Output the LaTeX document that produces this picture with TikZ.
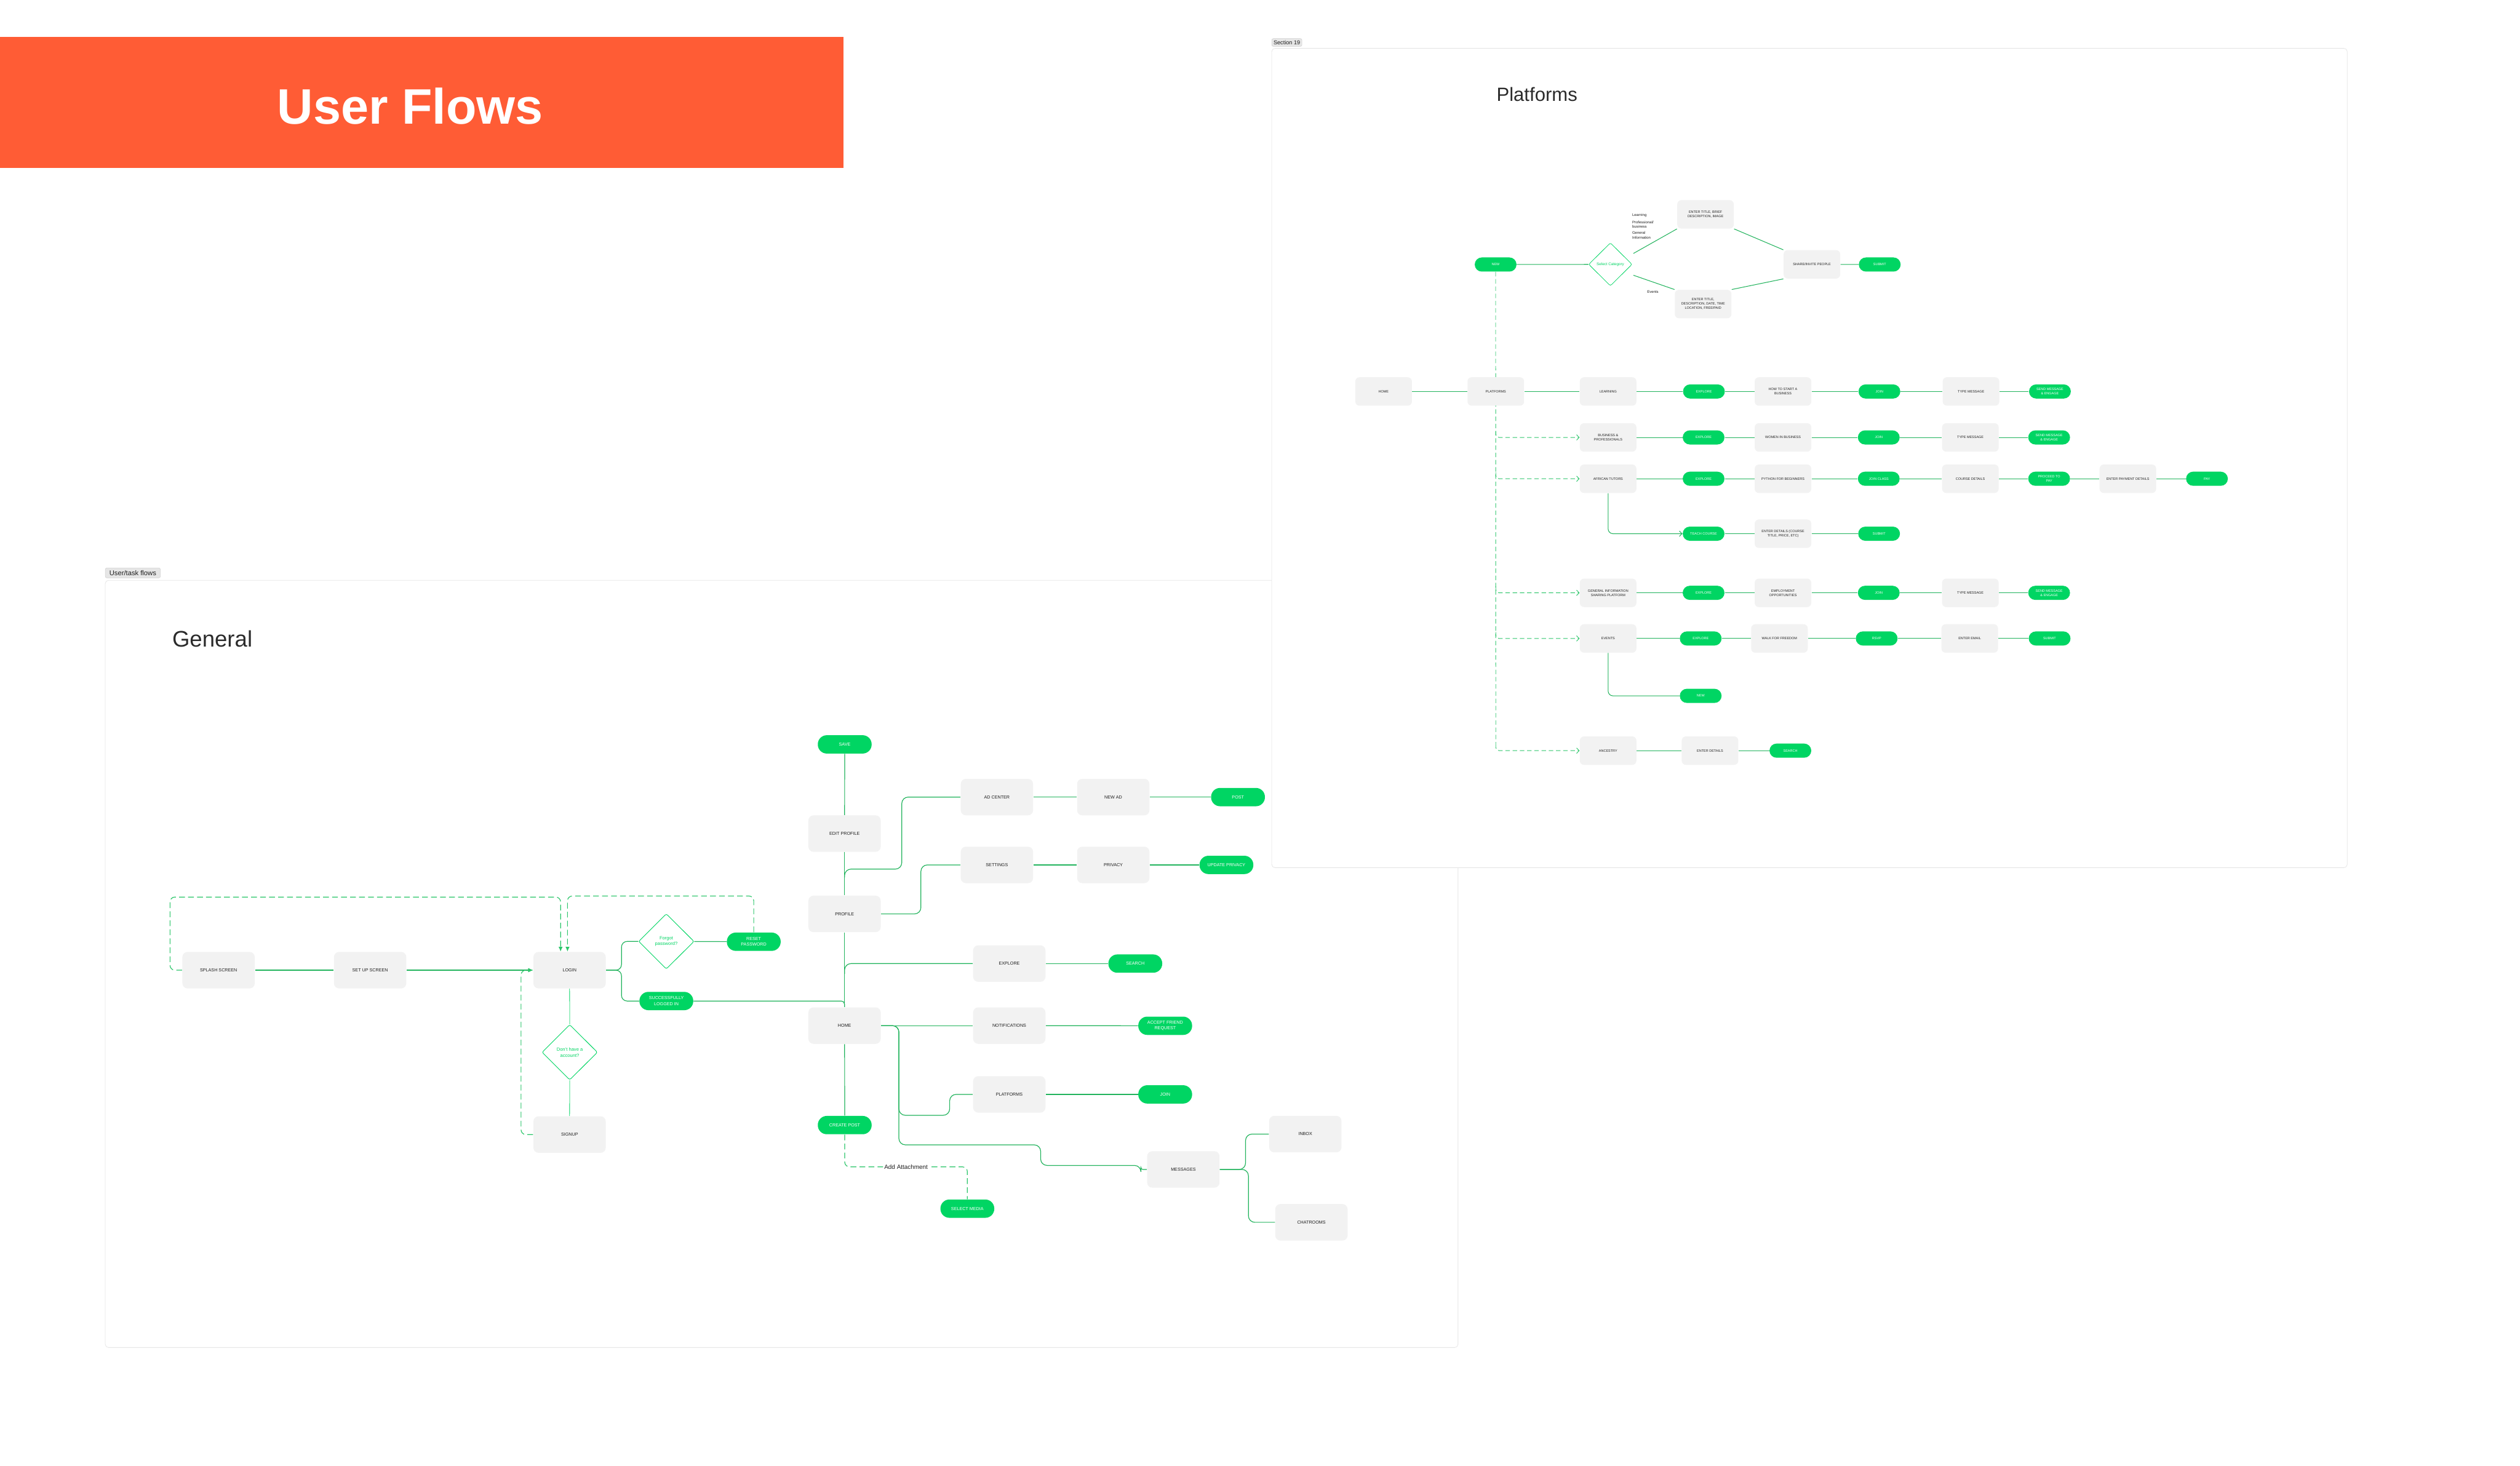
\documentclass[tikz,border=0pt]{standalone}
\usepackage{fontspec}
\setmainfont{Liberation Sans}
\usetikzlibrary{arrows.meta,shapes.geometric,calc}
\pgfdeclarelayer{frames}
\pgfdeclarelayer{links}
\pgfsetlayers{frames,links,main}
\definecolor{uforange}{HTML}{FF5C35}
\definecolor{boxgray}{HTML}{F2F2F2}
\definecolor{txt}{HTML}{1F1F1F}
\definecolor{head}{HTML}{2B2B2B}
\definecolor{pgreen}{HTML}{00D563}
\definecolor{lgreen}{HTML}{21B35C}
\definecolor{dgreen}{HTML}{2CC66A}
\definecolor{framegray}{HTML}{E6E6E6}
\definecolor{taggray}{HTML}{E6E6E6}
\definecolor{tagline}{HTML}{CFCFCF}
\tikzset{
 gbox/.style={rectangle, rounded corners=3.2pt, fill=boxgray, minimum width=45pt, minimum height=22.7pt, inner sep=0pt, align=center, text=txt, font=\fontsize{2.75pt}{3.6pt}\selectfont},
 gpill/.style={rectangle, rounded corners=5.6pt, fill=pgreen, minimum width=33.5pt, minimum height=11.4pt, inner sep=0pt, align=center, text=white, font=\fontsize{2.75pt}{3.6pt}\selectfont},
 gdmd/.style={diamond, draw=pgreen, line width=0.35pt, fill=white, minimum width=34.5pt, minimum height=34.4pt, inner sep=0pt, align=center, text=pgreen, font=\fontsize{2.9pt}{3.7pt}\selectfont, rounded corners=1pt},
 pbox/.style={gbox, rounded corners=2.6pt, minimum width=35.2pt, minimum height=17.7pt, font=\fontsize{2.1pt}{2.65pt}\selectfont},
 ppill/.style={gpill, rounded corners=4.4pt, minimum width=26pt, minimum height=8.8pt, font=\fontsize{2.1pt}{2.65pt}\selectfont},
 pdmd/.style={gdmd, line width=0.3pt, minimum width=27pt, minimum height=26.8pt, font=\fontsize{2.4pt}{3pt}\selectfont},
 gline/.style={draw=lgreen, line width=0.45pt},
 glite/.style={draw=pgreen, line width=0.3pt},
 gdash/.style={draw=dgreen, line width=0.45pt, dash pattern=on 3.6pt off 2pt},
 pline/.style={draw=lgreen, line width=0.4pt},
 pdash/.style={draw=dgreen, line width=0.35pt, dash pattern=on 2.8pt off 1.7pt},
 gtip/.style={-{Latex[length=3pt,width=2.6pt]}},
 ptip/.style={-{Straight Barb[length=1.6pt,width=3.4pt]}},
 note/.style={anchor=west, align=left, text=txt, font=\fontsize{2.3pt}{2.75pt}\selectfont, inner sep=0pt},
 tag/.style={rectangle, rounded corners=1pt, fill=taggray, draw=tagline, line width=0.2pt, inner sep=0pt, text=txt},
 frame/.style={draw=framegray, line width=0.3pt, rounded corners=2pt, fill=white}
}
\begin{document}
\begin{tikzpicture}[x=1pt,y=-1pt]
\useasboundingbox (0,0) rectangle (1568,912);

% ---------- banner ----------
\fill[uforange] (0,23) rectangle (525,104.5);
\node[anchor=base, text=white, inner sep=0pt, font=\bfseries\fontsize{31pt}{36pt}\selectfont] (title) at (255.3,77.1) {User Flows};

% ---------- frames ----------
\begin{pgfonlayer}{frames}
\path[frame] (65.5,361.1) rectangle (907.2,838.5);
\path[frame] (791.3,30.1) rectangle (1460.5,539.9);
\end{pgfonlayer}
\node[tag, minimum width=34.3pt, minimum height=6.2pt, font=\fontsize{4.3pt}{5pt}\selectfont] (gtag) at (82.65,356.5) {User/task flows};
\node[tag, minimum width=18.8pt, minimum height=4.9pt, font=\fontsize{3.5pt}{4pt}\selectfont] (ptag) at (800.7,26.45) {Section 19};
\node[anchor=base west, inner sep=0pt, text=head, font=\fontsize{14pt}{16pt}\selectfont] (ghead) at (107,402.4) {General};
\node[anchor=base west, inner sep=0pt, text=head, font=\fontsize{11.9pt}{14pt}\selectfont] (phead) at (931,63) {Platforms};

% ---------- General nodes ----------
\node[gbox] (splash) at (136,603.7) {SPLASH SCREEN};
\node[gbox] (setup) at (230.3,603.7) {SET UP SCREEN};
\node[gbox] (login) at (354.4,603.7) {LOGIN};
\node[gdmd] (forgot) at (414.6,585.8) {Forgot\\password?};
\node[gpill] (reset) at (469,586) {RESET\\PASSWORD};
\node[gpill] (success) at (414.6,622.9) {SUCCESSFULLY\\LOGGED IN};
\node[gdmd] (dont) at (354.5,654.8) {Don't have a\\account?};
\node[gbox] (signup) at (354.4,706) {SIGNUP};
\node[gpill] (save) at (525.6,463.2) {SAVE};
\node[gbox] (edit) at (525.5,518.7) {EDIT PROFILE};
\node[gbox] (profile) at (525.5,568.7) {PROFILE};
\node[gbox] (adc) at (620.3,496) {AD CENTER};
\node[gbox] (newad) at (692.7,496) {NEW AD};
\node[gpill] (post) at (770.3,496) {POST};
\node[gbox] (settings) at (620.3,538.2) {SETTINGS};
\node[gbox] (privacy) at (692.7,538.2) {PRIVACY};
\node[gpill] (upriv) at (763.1,538.2) {UPDATE PRIVACY};
\node[gbox] (home) at (525.5,638.2) {HOME};
\node[gbox] (gexplore) at (628,599.6) {EXPLORE};
\node[gpill] (search) at (706.4,599.6) {SEARCH};
\node[gbox] (notif) at (628,638.2) {NOTIFICATIONS};
\node[gpill] (accept) at (725,638.3) {ACCEPT FRIEND\\REQUEST};
\node[gbox] (gplat) at (628,681) {PLATFORMS};
\node[gpill] (join) at (725,681) {JOIN};
\node[gbox] (msg) at (736.3,727.7) {MESSAGES};
\node[gbox] (inbox) at (812.2,705.7) {INBOX};
\node[gbox] (chat) at (816,760.6) {CHATROOMS};
\node[gpill] (cpost) at (525.6,700.1) {CREATE POST};
\node[gpill] (smedia) at (601.9,752.1) {SELECT MEDIA};
\coordinate (ja) at (525.5,546);
\coordinate (jx) at (525.5,606);

% ---------- Platforms nodes ----------
\node[ppill] (pnew) at (930.6,164.6) {NEW};
\node[pdmd] (sel) at (1002,164.5) {Select Category};
\node[pbox] (e1) at (1061.2,133.4) {ENTER TITLE, BRIEF\\DESCRIPTION, IMAGE};
\node[pbox] (e2) at (1059.7,189.2) {ENTER TITLE,\\DESCRIPTION, DATE, TIME\\LOCATION, FREE/PAID};
\node[pbox] (share) at (1127.4,164.5) {SHARE/INVITE PEOPLE};
\node[ppill] (psub0) at (1169.6,164.6) {SUBMIT};
\node[note] (nlearn) at (1015.4,133.9) {Learning};
\node[note] (nprof) at (1015.4,139.55) {Professional/\\business};
\node[note] (ngen) at (1015.4,146.35) {General\\Information};
\node[note] (nev) at (1024.7,181.7) {Events};

\node[pbox] (phome) at (860.9,243.6) {HOME};
\node[pbox] (pplat) at (930.7,243.6) {PLATFORMS};
\node[pbox] (learn) at (1000.6,243.6) {LEARNING};
\node[ppill] (ex1) at (1060.2,243.6) {EXPLORE};
\node[pbox] (howto) at (1109.4,243.6) {HOW TO START A\\BUSINESS};
\node[ppill] (join1) at (1169.4,243.6) {JOIN};
\node[pbox] (tm1) at (1226.4,243.6) {TYPE MESSAGE};
\node[ppill] (send1) at (1275.5,243.6) {SEND MESSAGE\\\& ENGAGE};

\node[pbox] (bus) at (1000.6,272.2) {BUSINESS \&\\PROFESSIONALS};
\node[ppill] (ex2) at (1060,272.2) {EXPLORE};
\node[pbox] (women) at (1109.4,272.2) {WOMEN IN BUSINESS};
\node[ppill] (join2) at (1169,272.2) {JOIN};
\node[pbox] (tm2) at (1226,272.2) {TYPE MESSAGE};
\node[ppill] (send2) at (1275,272.2) {SEND MESSAGE\\\& ENGAGE};

\node[pbox] (tutors) at (1000.6,297.9) {AFRICAN TUTORS};
\node[ppill] (ex3) at (1060,297.9) {EXPLORE};
\node[pbox] (python) at (1109.4,297.9) {PYTHON FOR BEGINNERS};
\node[ppill] (jclass) at (1169,297.9) {JOIN CLASS};
\node[pbox] (course) at (1226,297.9) {COURSE DETAILS};
\node[ppill] (proceed) at (1275,297.9) {PROCEED TO\\PAY};
\node[pbox] (payd) at (1324,297.9) {ENTER PAYMENT DETAILS};
\node[ppill] (pay) at (1373.2,297.9) {PAY};

\node[ppill] (teach) at (1060,332.1) {TEACH COURSE};
\node[pbox] (edet) at (1109.4,332.1) {ENTER DETAILS (COURSE\\TITLE, PRICE, ETC)};
\node[ppill] (sub4) at (1169.2,332.1) {SUBMIT};

\node[pbox] (gen) at (1000.6,368.9) {GENERAL INFORMATION\\SHARING PLATFORM};
\node[ppill] (ex5) at (1060,368.9) {EXPLORE};
\node[pbox] (employ) at (1109.4,368.9) {EMPLOYMENT\\OPPORTUNITIES};
\node[ppill] (join5) at (1169,368.9) {JOIN};
\node[pbox] (tm5) at (1226,368.9) {TYPE MESSAGE};
\node[ppill] (send5) at (1275,368.9) {SEND MESSAGE\\\& ENGAGE};

\node[pbox] (events) at (1000.6,397.3) {EVENTS};
\node[ppill] (ex6) at (1058.2,397.3) {EXPLORE};
\node[pbox] (walk) at (1107.2,397.3) {WALK FOR FREEDOM};
\node[ppill] (rsvp) at (1167.7,397.3) {RSVP};
\node[pbox] (email) at (1225.6,397.3) {ENTER EMAIL};
\node[ppill] (sub6) at (1275.3,397.3) {SUBMIT};

\node[ppill] (pnew2) at (1058.2,433) {NEW};

\node[pbox] (anc) at (1000.6,467.1) {ANCESTRY};
\node[pbox] (edet2) at (1064,467.1) {ENTER DETAILS};
\node[ppill] (psearch) at (1114,467.1) {SEARCH};

% ---------- connectors ----------
\begin{pgfonlayer}{links}
% General: login area
\draw[gline] (splash) -- (setup);
\draw[gline, gtip] (setup) -- (login);
\draw[gline, rounded corners=3.5] (login.east) -| ++(9.6,-17.9) -- (forgot.west);
\draw[gline, rounded corners=3.5] (login.east) -| ++(9.6,19.2) -- (success.west);
\draw[gline] (forgot) -- (reset);
\draw[glite] (login) -- (dont);
\draw[glite] (dont) -- (signup);
\draw[gdash, gtip, rounded corners=3] (splash.west) -| ++(-7.5,-45.5) -| ($(login.north)+(-5.6,0)$);
\draw[gdash, gtip, rounded corners=3] (reset.north) |- ($(login.north)+(-1.3,-34.6)$) -- ($(login.north)+(-1.3,0)$);
\draw[gdash, gtip, rounded corners=3] (signup.west) -| ($(login.west)+(-7.5,0)$) -- (login.west);
\draw[gline, rounded corners=2] (success.east) -| (home.north);
% General: profile / home trunk
\draw[gline] (save) -- (edit);
\draw[gline] (edit) -- (profile);
\draw[gline] (profile) -- (home);
\draw[gline] (home) -- (cpost);
\draw[gline, rounded corners=4] (ja) |- ++(35.6,-5.2) |- (adc.west);
\draw[gline, rounded corners=4] (profile.east) -| ++(24.8,-15) |- (settings.west);
\draw[gline] (adc) -- (newad);
\draw[gline] (newad) -- (post);
\draw[gline] (settings) -- (privacy);
\draw[gline] (privacy) -- (upriv);
\draw[gline, rounded corners=4] (jx) |- (gexplore.west);
\draw[gline] (gexplore) -- (search);
\draw[gline] (home) -- (notif);
\draw[gline] (notif) -- (accept);
\draw[gline, rounded corners=4] (home.east) -| ++(11.1,55.8) -| ++(31.6,-13) -- (gplat.west);
\draw[gline] (gplat) -- (join);
\draw[gline, rounded corners=4] (home.east) -| ++(11.1,74.2) -| ++(88.2,12.8) -- ++(62.4,0) [rounded corners=1.2] |- (msg.west);
\draw[gline, rounded corners=4] (msg.east) -| ++(16,-22) -- (inbox.west);
\draw[gline, rounded corners=4] (msg.east) -| ++(17.8,32.9) -- (chat.west);
\draw[gdash, rounded corners=3] (cpost.south) |- ($(cpost.south)!0.5!(smedia.north)$)
   node[fill=white, inner sep=0.8pt, text=txt, font=\fontsize{3.8pt}{4.5pt}\selectfont] (att) {Add Attachment}
   -| (smedia.north);

% Platforms: top
\draw[pline] (pnew) -- (sel);
\draw[pline] ($(sel.north east)+(7.5,0)$) -- (e1.south west);
\draw[pline] ($(sel.south east)+(7.5,0)$) -- (e2.north west);
\draw[pline] (e1.south east) -- (share.north west);
\draw[pline] (e2.north east) -- (share.south west);
\draw[pline] (share) -- (psub0);
% Platforms: dashed trunk and branches
\draw[pdash] (pnew.south) -- ($(pplat.south |- anc.west)+(0,-4)$);
\foreach \t in {bus,tutors,gen,events,anc}
  \draw[pdash, ptip, rounded corners=2] ($(pplat.south |- \t.west)+(0,-4)$) |- (\t.west);
% Platforms: rows
\foreach \a/\b in {phome/pplat, pplat/learn, learn/ex1, ex1/howto, howto/join1, join1/tm1, tm1/send1,
  bus/ex2, ex2/women, women/join2, join2/tm2, tm2/send2,
  tutors/ex3, ex3/python, python/jclass, jclass/course, course/proceed, proceed/payd, payd/pay,
  teach/edet, edet/sub4,
  gen/ex5, ex5/employ, employ/join5, join5/tm5, tm5/send5,
  events/ex6, ex6/walk, walk/rsvp, rsvp/email, email/sub6,
  anc/edet2, edet2/psearch}
  \draw[pline] (\a) -- (\b);
\draw[pline, ptip, rounded corners=3] (tutors.south) |- (teach.west);
\draw[pline, rounded corners=3] (events.south) |- (pnew2.west);
\end{pgfonlayer}
\end{tikzpicture}
\end{document}
